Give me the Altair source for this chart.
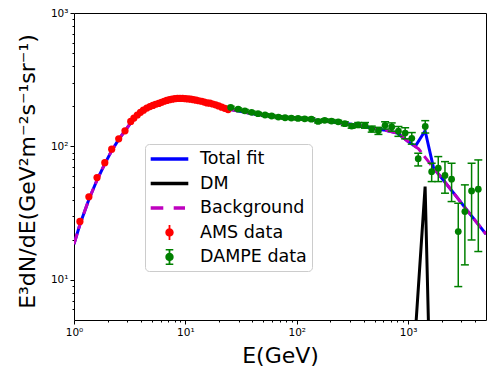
import altair as alt
import pandas as pd

# ---------------- data ----------------
ams_x = [1.13, 1.36, 1.61, 1.89, 2.18, 2.52, 2.87, 3.23, 3.45, 3.7, 3.95, 4.2, 4.5, 4.8,
         5.1, 5.4, 5.75, 6.1, 6.45, 6.8, 7.2, 7.6, 8.05, 8.5, 8.95, 9.45, 10.0, 10.6,
         11.2, 11.8, 12.5, 13.2, 14.0, 14.8, 15.7, 16.6, 17.6, 18.7, 19.9, 21.2, 22.6, 24.2]
ams_y = [27.4, 41.9, 58.4, 75.6, 95.3, 114, 131, 154, 163, 172, 180, 187, 194, 199,
         203, 207, 210, 214, 218, 221, 224, 226, 228, 229, 229, 229, 228, 227,
         226, 224, 222, 220, 218, 215, 212, 211, 208, 205, 201, 197, 193, 189]

dampe_x = [25.5, 29.8, 34.2, 39.3, 44.9, 51.9, 59.5, 68.4, 78.5, 89.4, 102.7, 117.8, 135.3,
           155.4, 178, 205, 235.5, 270, 311, 356, 410, 471, 541, 621, 712, 818, 940, 1078,
           1232, 1424, 1626, 1864, 2141, 2455, 2818, 3231, 3712, 4264]
dampe_y = [196, 190, 185, 180, 176, 172, 169, 166, 164, 163, 162, 161, 160,
           154, 157, 155, 153, 148, 142, 145, 144, 135, 131, 144, 140, 130, 126, 115,
           81.0, 141, 64.7, 68.7, 60.6, 56.8, 23.0, 32.5, 46.4, 47.8]
dampe_lo = [192, 186, 181, 176, 172, 168, 165, 162, 160, 159, 158, 157, 156,
            150, 153, 151, 149, 143, 137, 139, 137, 128, 123, 135, 130, 119, 114, 104,
            71.4, 126, 54.5, 54.5, 44.6, 38.6, 8.9, 12.95, 19.9, 16.3]
dampe_hi = [200, 194, 189, 184, 180, 176, 173, 170, 168, 167, 166, 165, 164,
            158, 161, 159, 157, 153, 147, 151, 151, 142, 139, 153, 150, 141, 138, 127,
            88.9, 156, 74.8, 83.9, 76.9, 74.8, 37.5, 51.5, 74.8, 79.2]

bg_x = [1.0, 1.13, 1.36, 1.61, 1.89, 2.18, 2.52, 2.87, 3.23, 3.7, 4.2, 5.0, 6.0, 7.0, 8.0,
        9.0, 10, 12, 14, 17, 20, 25, 30, 40, 50, 70, 100, 150, 200, 300, 400, 500, 600,
        800, 1000, 1240, 1580, 2000, 2750, 3400, 5000]
bg_y = [18.5, 26, 40, 56, 74, 93, 113, 131, 150, 170, 186, 204, 217, 225, 229,
        230, 229, 224, 218, 209, 201, 190, 184, 176, 171, 166, 162, 157, 153, 147, 141, 136, 133,
        126, 109, 96, 74, 58, 41.5, 33, 22]

tot_x = [1.0, 1.13, 1.36, 1.61, 1.89, 2.18, 2.52, 2.87, 3.23, 3.7, 4.2, 5.0, 6.0, 7.0, 8.0,
         9.0, 10, 12, 14, 17, 20, 25, 30, 40, 50, 70, 100, 150, 200, 300, 400, 500, 600,
         800, 1000, 1159, 1420, 1690, 2000, 2750, 3400, 5000]
tot_y = [18.5, 26, 40, 56, 74, 93, 113, 131, 150, 170, 186, 204, 217, 225, 229,
         230, 229, 224, 218, 209, 201, 190, 184, 176, 171, 166, 162, 157, 153, 147, 141, 136, 133,
         126, 109, 100, 131, 69, 58, 41.5, 33, 22]

dm_x = [1100, 1420, 1700]
dm_y = [2.05, 50, 0.11]

series_names = ["Total fit", "DM", "Background", "AMS data", "DAMPE data"]
series_colors = ["#0000ff", "#000000", "#bf00bf", "#ff0000", "#008000"]
legend_shapes = [
    "M-0.93,-0.18H2.83V0.18H-0.93Z",
    "M-0.93,-0.18H2.83V0.18H-0.93Z",
    "M-0.93,-0.18H0.33V0.18H-0.93ZM1.37,-0.18H2.5V0.18H1.37Z",
    "M0.86,-0.75H1.04V0.75H0.86ZM1.37,0A0.42,0.42,0,1,1,0.53,0A0.42,0.42,0,1,1,1.37,0Z",
    "M0.86,-0.75H1.04V0.75H0.86ZM0.57,-0.8H1.33V-0.66H0.57ZM0.57,0.66H1.33V0.8H0.57Z"
    "M1.37,0A0.42,0.42,0,1,1,0.53,0A0.42,0.42,0,1,1,1.37,0Z",
]

x_major = [1, 10, 100, 1000]
x_major_labels = ["10⁰", "10¹", "10²", "10³"]
x_minor = [2, 3, 4, 5, 6, 7, 8, 9, 20, 30, 40, 50, 60, 70, 80, 90,
           200, 300, 400, 500, 600, 700, 800, 900, 2000, 3000, 4000]
y_major = [10, 100, 1000]
y_major_labels = ["10¹", "10²", "10³"]
y_minor = [6, 7, 8, 9, 20, 30, 40, 50, 60, 70, 80, 90, 200, 300, 400, 500, 600, 700, 800, 900]

# ---------------- frames ----------------
ams_df = pd.DataFrame({"x": ams_x, "y": ams_y})
dampe_df = pd.DataFrame({"x": dampe_x, "y": dampe_y, "lo": dampe_lo, "hi": dampe_hi})
bg_df = pd.DataFrame({"x": bg_x, "y": bg_y})
tot_df = pd.DataFrame({"x": tot_x, "y": tot_y})
dm_df = pd.DataFrame({"x": dm_x, "y": dm_y})
leg_df = pd.concat([
    tot_df.assign(series="Total fit"), dm_df.assign(series="DM"),
    bg_df.assign(series="Background"), ams_df.assign(series="AMS data"),
    dampe_df[["x", "y"]].assign(series="DAMPE data")], ignore_index=True)


def label_expr(vals, labels):
    parts = " : ".join(f"datum.value == {v} ? '{l}'" for v, l in zip(vals, labels))
    return parts + " : ''"


def major_test(vals):
    return "indexof([" + ",".join(str(v) for v in vals) + "], datum.value) >= 0"


FONT = "DejaVu Sans"
xscale = alt.Scale(type="log", domain=[1, 5000], nice=False)
yscale = alt.Scale(type="log", domain=[5, 1000], nice=False)

xaxis = alt.Axis(
    values=sorted(x_major + x_minor), labelExpr=label_expr(x_major, x_major_labels),
    tickSize={"condition": {"test": major_test(x_major), "value": 4}, "value": 2},
    grid=False, domain=False, labelPadding=3, labelFontSize=10.5, labelFont=FONT,
    labelColor="black", tickColor="black", labelFlush=False, labelOverlap=False,
    title="E(GeV)", titleFont=FONT, titleFontSize=22, titleFontWeight="normal",
    titleColor="black", titleY=42, titleBaseline="alphabetic",
)
yaxis = alt.Axis(
    values=sorted(y_major + y_minor), labelExpr=label_expr(y_major, y_major_labels),
    tickSize={"condition": {"test": major_test(y_major), "value": 4}, "value": 2},
    grid=False, domain=False, labelPadding=2, labelFontSize=10.5, labelFont=FONT,
    labelColor="black", tickColor="black", labelFlush=False, labelOverlap=False,
    title="E³dN/dE(GeV²m⁻²s⁻¹sr⁻¹)", titleFont=FONT, titleFontSize=22,
    titleFontWeight="normal", titleColor="black", titleX=-40, titleY=158,
    titleBaseline="alphabetic",
)

X = alt.X("x:Q", scale=xscale, axis=xaxis)
Y = alt.Y("y:Q", scale=yscale, axis=yaxis)

total = alt.Chart(tot_df).mark_line(color="#0000ff", strokeWidth=3, clip=True).encode(x=X, y=Y)
dm = alt.Chart(dm_df).mark_line(color="#000000", strokeWidth=3, clip=True).encode(x=X, y=Y)
bg = alt.Chart(bg_df).mark_line(color="#bf00bf", strokeWidth=3, strokeDash=[11, 5],
                                clip=True).encode(x=X, y=Y)

err = alt.Chart(dampe_df).mark_rule(color="#008000", strokeWidth=1.5, clip=True).encode(
    x=X, y=alt.Y("lo:Q", scale=yscale, axis=yaxis), y2="hi:Q")
cap_lo = alt.Chart(dampe_df).mark_tick(color="#008000", orient="horizontal", size=8,
                                       thickness=1.5, opacity=1, clip=True).encode(
    x=X, y=alt.Y("lo:Q", scale=yscale, axis=yaxis))
cap_hi = alt.Chart(dampe_df).mark_tick(color="#008000", orient="horizontal", size=8,
                                       thickness=1.5, opacity=1, clip=True).encode(
    x=X, y=alt.Y("hi:Q", scale=yscale, axis=yaxis))

ams_pts = alt.Chart(ams_df).mark_circle(color="#ff0000", size=52, opacity=1).encode(x=X, y=Y)
dampe_pts = alt.Chart(dampe_df).mark_circle(color="#008000", size=46, opacity=1).encode(x=X, y=Y)

legend = alt.Legend(title=None, orient="none", legendX=71, legendY=131)
leg_layer = alt.Chart(leg_df).mark_point(filled=True, opacity=0).encode(
    x=X, y=Y,
    color=alt.Color("series:N", scale=alt.Scale(domain=series_names, range=series_colors),
                    legend=legend),
    shape=alt.Shape("series:N", scale=alt.Scale(domain=series_names, range=legend_shapes),
                    legend=legend),
)

chart = alt.layer(
    total, bg, dm, err, cap_lo, cap_hi, ams_pts, dampe_pts, leg_layer
).properties(
    width=412, height=307,
    autosize=alt.AutoSizeParams(type="none"),
    padding={"left": 66, "top": 5, "right": 4, "bottom": 55},
).configure_view(
    stroke="black", strokeWidth=1
).configure_legend(
    labelFont=FONT, labelFontSize=17.5, labelColor="black", labelOffset=30,
    symbolSize=400, symbolStrokeWidth=0, symbolOpacity=1, symbolFillColor="#000000",
    symbolOffset=0, rowPadding=5.5, padding=5, strokeColor="#cccccc",
    fillColor="#ffffff", cornerRadius=4, labelLimit=300,
)

chart.save("out.html", embed_options={"renderer": "svg", "actions": False})
